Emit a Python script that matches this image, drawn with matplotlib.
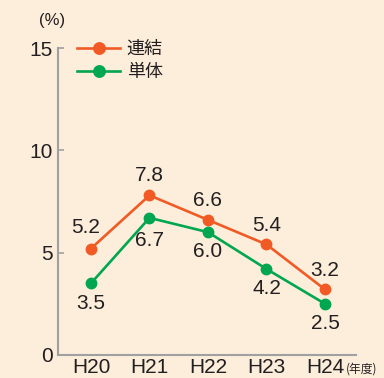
#Operating margin trend, consolidated vs non-consolidated
import matplotlib.pyplot as plt

plt.rcParams['font.family'] = ['Liberation Sans', 'Noto Sans CJK JP']

#
# Data
#

years = ['H20', 'H21', 'H22', 'H23', 'H24']
consolidated = [5.2, 7.8, 6.6, 5.4, 3.2]
standalone = [3.5, 6.7, 6.0, 4.2, 2.5]
yticks = [0, 5, 10, 15]

orange = '#f15a24'
green = '#00a650'
bg = '#fdeedb'
axcol = '#a0a0a0'
txt = '#231f20'
fs = 15

#
# Plot
#

fig = plt.figure(figsize=(3.84, 3.78), dpi=100, facecolor=bg)
ax = fig.add_axes([0.151, 0.061, 0.776, 0.812])
ax.set_facecolor(bg)

x = list(range(len(years)))
ax.plot(x, consolidated, '-o', color=orange, lw=1.9, ms=7.5, label='連結', clip_on=False)
ax.plot(x, standalone, '-o', color=green, lw=1.9, ms=7.5, label='単体', clip_on=False)

#label offsets in points (dx, dy)
offC = [(-4, 15), (0, 14), (0, 14), (0, 14), (0, 14)]
offS = [(0, -14.5), (0, -16), (0, -14), (0, -14), (0, -14.5)]
for i, v in enumerate(consolidated):
  ax.annotate(f'{v:.1f}', (i, v), xytext=offC[i], textcoords='offset points',
              ha='center', va='center', fontsize=fs, color=txt)
for i, v in enumerate(standalone):
  ax.annotate(f'{v:.1f}', (i, v), xytext=offS[i], textcoords='offset points',
              ha='center', va='center', fontsize=fs, color=txt)

ax.set_xlim(-0.564, 4.53)
ax.set_ylim(0, 15)
ax.set_xticks(x)
ax.set_xticklabels(years, fontsize=fs, color=txt)
ax.set_yticks(yticks)
ax.set_yticklabels([str(t) for t in yticks], fontsize=fs, color=txt)
ax.tick_params(axis='x', length=0, pad=2.5)
ax.tick_params(axis='y', direction='in', length=4.5, color=axcol, width=1.2, pad=4)

for s in ['top', 'right']:
  ax.spines[s].set_visible(False)
for s in ['left', 'bottom']:
  ax.spines[s].set_color(axcol)
  ax.spines[s].set_linewidth(1.5)

fig.text(0.136, 0.947, '(%)', fontsize=12, color=txt, ha='center', va='center')
fig.text(0.902, 0.006, '(年度)', fontsize=8.5, color=txt, ha='left', va='bottom',
         family=['Noto Sans CJK JP'])

leg = ax.legend(loc='upper left', bbox_to_anchor=(0.04, 1.05), frameon=False,
                handlelength=2.4, handletextpad=0.35, labelspacing=0.28,
                borderaxespad=0, markerscale=1.1, prop={'family': 'Noto Sans CJK JP', 'size': 13})
for t in leg.get_texts():
  t.set_color(txt)

fig.savefig('out.png', dpi=100, facecolor=bg)
